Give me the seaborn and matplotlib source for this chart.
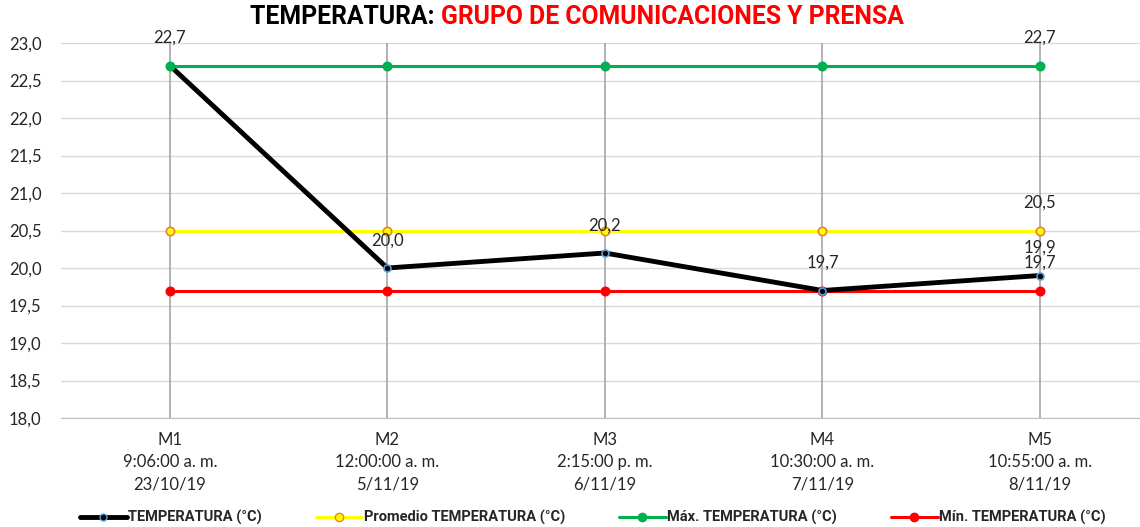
import matplotlib
matplotlib.use('Agg')
import matplotlib.pyplot as plt
import seaborn as sns
import pandas as pd
import numpy as np

categories = ['M1\n9:06:00 a. m.\n23/10/19', 'M2\n12:00:00 a. m.\n5/11/19',
              'M3\n2:15:00 p. m.\n6/11/19', 'M4\n10:30:00 a. m.\n7/11/19',
              'M5\n10:55:00 a. m.\n8/11/19']
temperatura = [22.7, 20.0, 20.2, 19.7, 19.9]
promedio = [20.5, 20.5, 20.5, 20.5, 20.5]
maxima = [22.7, 22.7, 22.7, 22.7, 22.7]
minima = [19.7, 19.7, 19.7, 19.7, 19.7]
y_ticks = [18.0, 18.5, 19.0, 19.5, 20.0, 20.5, 21.0, 21.5, 22.0, 22.5, 23.0]

sns.set_style('white')
plt.rcParams['font.family'] = ['Lato', 'DejaVu Sans']
BOLD = ['Roboto', 'DejaVu Sans']

x = np.arange(len(categories))
fig = plt.figure(figsize=(11.4, 5.27), dpi=100)
ax = fig.add_axes([61 / 1140, 1 - 418 / 527, 1 - 61 / 1140, (418 - 43) / 527])

for v in y_ticks:
    ax.axhline(v, color='#d9d9d9', lw=1, zorder=0)
for xi in x:
    ax.axvline(xi, color='#a6a6a6', lw=1.2, zorder=0.5)

series = [
    ('TEMPERATURA (°C)', temperatura, 'black', 'black', '#5b9bd5', 3.5, 5),
    ('Promedio TEMPERATURA (°C)', promedio, '#ffff00', '#ffff00', '#ed7d31', 2.2, 6),
    ('Máx. TEMPERATURA (°C)', maxima, '#00b050', '#00b050', '#00b050', 2.2, 6),
    ('Mín. TEMPERATURA (°C)', minima, '#ff0000', '#ff0000', '#ff0000', 2.2, 6),
]
zorders = {0: 4, 1: 3, 2: 5, 3: 3}
for i, (name, vals, col, face, edge, lw, ms) in enumerate(series):
    df = pd.DataFrame({'x': x, 'y': vals})
    sns.lineplot(data=df, x='x', y='y', ax=ax, color=col, lw=lw, marker='o',
                 markersize=ms, markerfacecolor=face, markeredgecolor=edge,
                 markeredgewidth=1.2, zorder=zorders[i], legend=False)

def lab(xi, yi, txt):
    ax.annotate(txt, (xi, yi), xytext=(0, 14), textcoords='offset points',
                ha='center', va='bottom', fontsize=12, color='#262626')

lab(0, maxima[0], '22,7')
lab(4, maxima[4], '22,7')
lab(1, temperatura[1], '20,0')
lab(2, temperatura[2], '20,2')
lab(3, temperatura[3], '19,7')
lab(4, promedio[4], '20,5')
lab(4, temperatura[4], '19,9')
lab(4, minima[4], '19,7')

ax.set_xlim(-0.5, (1140 - 170) / 217.5)
ax.set_ylim(18, 23)
ax.set_yticks(y_ticks)
ax.set_yticklabels([f'{v:.1f}'.replace('.', ',') for v in y_ticks], fontsize=12,
                   color='#262626')
ax.set_xticks(x)
ax.set_xticklabels(categories, fontsize=12, linespacing=1.5, color='#262626')
ax.tick_params(axis='x', length=0, pad=10)
ax.tick_params(axis='y', length=0, pad=14)
ax.set_xlabel('')
ax.set_ylabel('')
for s in ['top', 'right', 'left']:
    ax.spines[s].set_visible(False)
ax.spines['bottom'].set_color('#bfbfbf')

handles = []
for name, vals, col, face, edge, lw, ms in series:
    h, = ax.plot([], [], color=col, lw=lw, marker='o', markersize=ms,
                 markerfacecolor=face, markeredgecolor=edge, label=name)
    handles.append(h)
fig.legend(handles=handles, loc='lower center', ncol=4, frameon=False,
           bbox_to_anchor=(0.52, -0.022), columnspacing=3.7, handlelength=3.2,
           handletextpad=0.1, prop={'family': BOLD, 'weight': 'bold', 'size': 10.5})

t1 = fig.text(250 / 1140, 0.99, 'TEMPERATURA: ', ha='left', va='top', fontsize=17.8,
              fontweight='bold', family=BOLD, color='black')
fig.canvas.draw()
bb = t1.get_window_extent()
fig.text(bb.x1 / fig.bbox.width, 0.99, 'GRUPO DE COMUNICACIONES Y PRENSA', ha='left',
         va='top', fontsize=17.8, fontweight='bold', color='#ff0000', family=BOLD)

fig.savefig('out.png', dpi=100)
